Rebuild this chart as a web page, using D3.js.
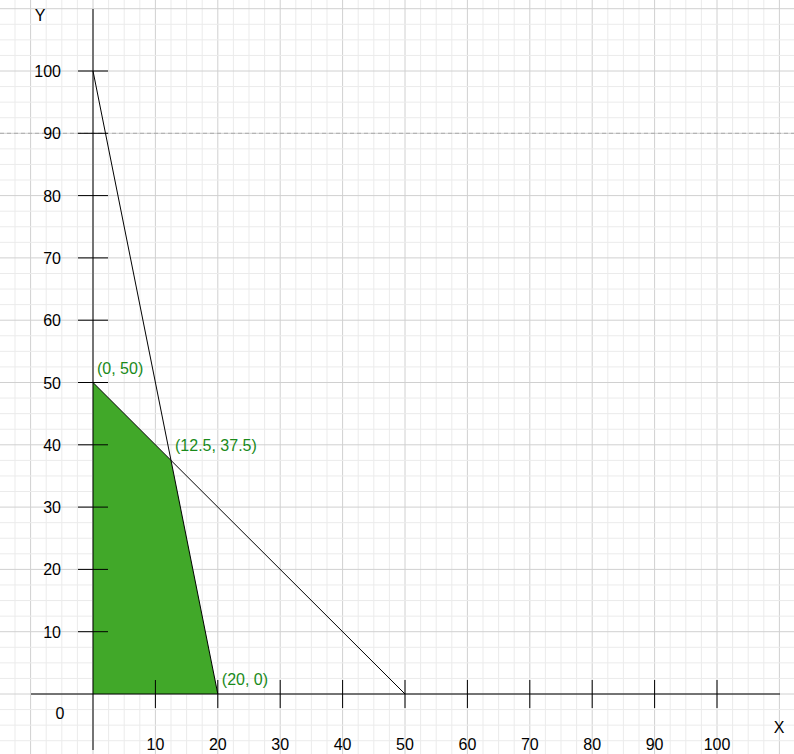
<!DOCTYPE html>
<html><head><meta charset="utf-8">
<script src="https://cdn.jsdelivr.net/npm/d3@7"></script>
<style>body{margin:0;background:#fff}text{font-family:"Liberation Sans",Arial,sans-serif}</style>
</head><body><svg id="c" width="794" height="754"></svg>
<script>
const xTicks=[10,20,30,40,50,60,70,80,90,100];
const yTicks=[10,20,30,40,50,60,70,80,90,100];
const feasible=[[0,0],[0,50],[12.5,37.5],[20,0]];
const line1=[[0,100],[20,0]];
const line2=[[0,50],[50,0]];
const vertexLabels=[{p:[0,50],t:"(0, 50)"},{p:[12.5,37.5],t:"(12.5, 37.5)"},{p:[20,0],t:"(20, 0)"}];
const dashedY=90;
const svg=d3.select("#c");
const x=d3.scaleLinear().domain([0,100]).range([93,717]);
const y=d3.scaleLinear().domain([0,100]).range([694,71]);
const W=794,H=754;
// grid
const minor=d3.range(-20,130,2.5);
svg.selectAll(".gx").data(minor).join("line").attr("x1",d=>x(d)).attr("x2",d=>x(d)).attr("y1",0).attr("y2",H)
 .attr("stroke",d=>d%10===0?"#d0d0d0":"#ebebeb").attr("stroke-width",1);
svg.selectAll(".gy").data(minor).join("line").attr("y1",d=>y(d)).attr("y2",d=>y(d)).attr("x1",0).attr("x2",W)
 .attr("stroke",d=>d%10===0?"#d0d0d0":"#ebebeb").attr("stroke-width",1);
// feasible region
const L=d3.line().x(d=>x(d[0])).y(d=>y(d[1]));
svg.append("path").attr("d",L(feasible)+"Z").attr("fill","#41a829");
// dashed
svg.append("line").attr("x1",0).attr("x2",W).attr("y1",y(dashedY)).attr("y2",y(dashedY)).attr("stroke","#aaa").attr("stroke-dasharray","4,3");
// axes
svg.append("line").attr("x1",31).attr("x2",780).attr("y1",y(0)).attr("y2",y(0)).attr("stroke","#000");
svg.append("line").attr("x1",x(0)).attr("x2",x(0)).attr("y1",9).attr("y2",750).attr("stroke","#000");
svg.selectAll(".tx").data(xTicks).join("line").attr("x1",d=>x(d)).attr("x2",d=>x(d)).attr("y1",y(0)-14).attr("y2",y(0)+14).attr("stroke","#000");
svg.selectAll(".ty").data(yTicks).join("line").attr("y1",d=>y(d)).attr("y2",d=>y(d)).attr("x1",x(0)-15).attr("x2",x(0)+15).attr("stroke","#000");
svg.selectAll(".lx").data(xTicks).join("text").attr("x",d=>x(d)).attr("y",750).attr("text-anchor","middle").attr("font-size",16).text(d=>d);
svg.selectAll(".ly").data(yTicks).join("text").attr("x",61).attr("y",d=>y(d)+6).attr("text-anchor","end").attr("font-size",16).text(d=>d);
svg.append("text").attr("x",60).attr("y",719).attr("text-anchor","middle").attr("font-size",16).text("0");
svg.append("text").attr("x",779).attr("y",733).attr("text-anchor","middle").attr("font-size",16).text("X");
svg.append("text").attr("x",40).attr("y",21).attr("text-anchor","middle").attr("font-size",16).text("Y");
// constraint lines
svg.append("path").attr("d",L(line1)).attr("stroke","#000").attr("fill","none");
svg.append("path").attr("d",L(line2)).attr("stroke","#000").attr("fill","none");
svg.selectAll(".vl").data(vertexLabels).join("text").attr("x",d=>x(d.p[0])+4).attr("y",d=>y(d.p[1])-9)
 .attr("fill","#1a8a1a").attr("font-size",16).text(d=>d.t);
</script></body></html>
